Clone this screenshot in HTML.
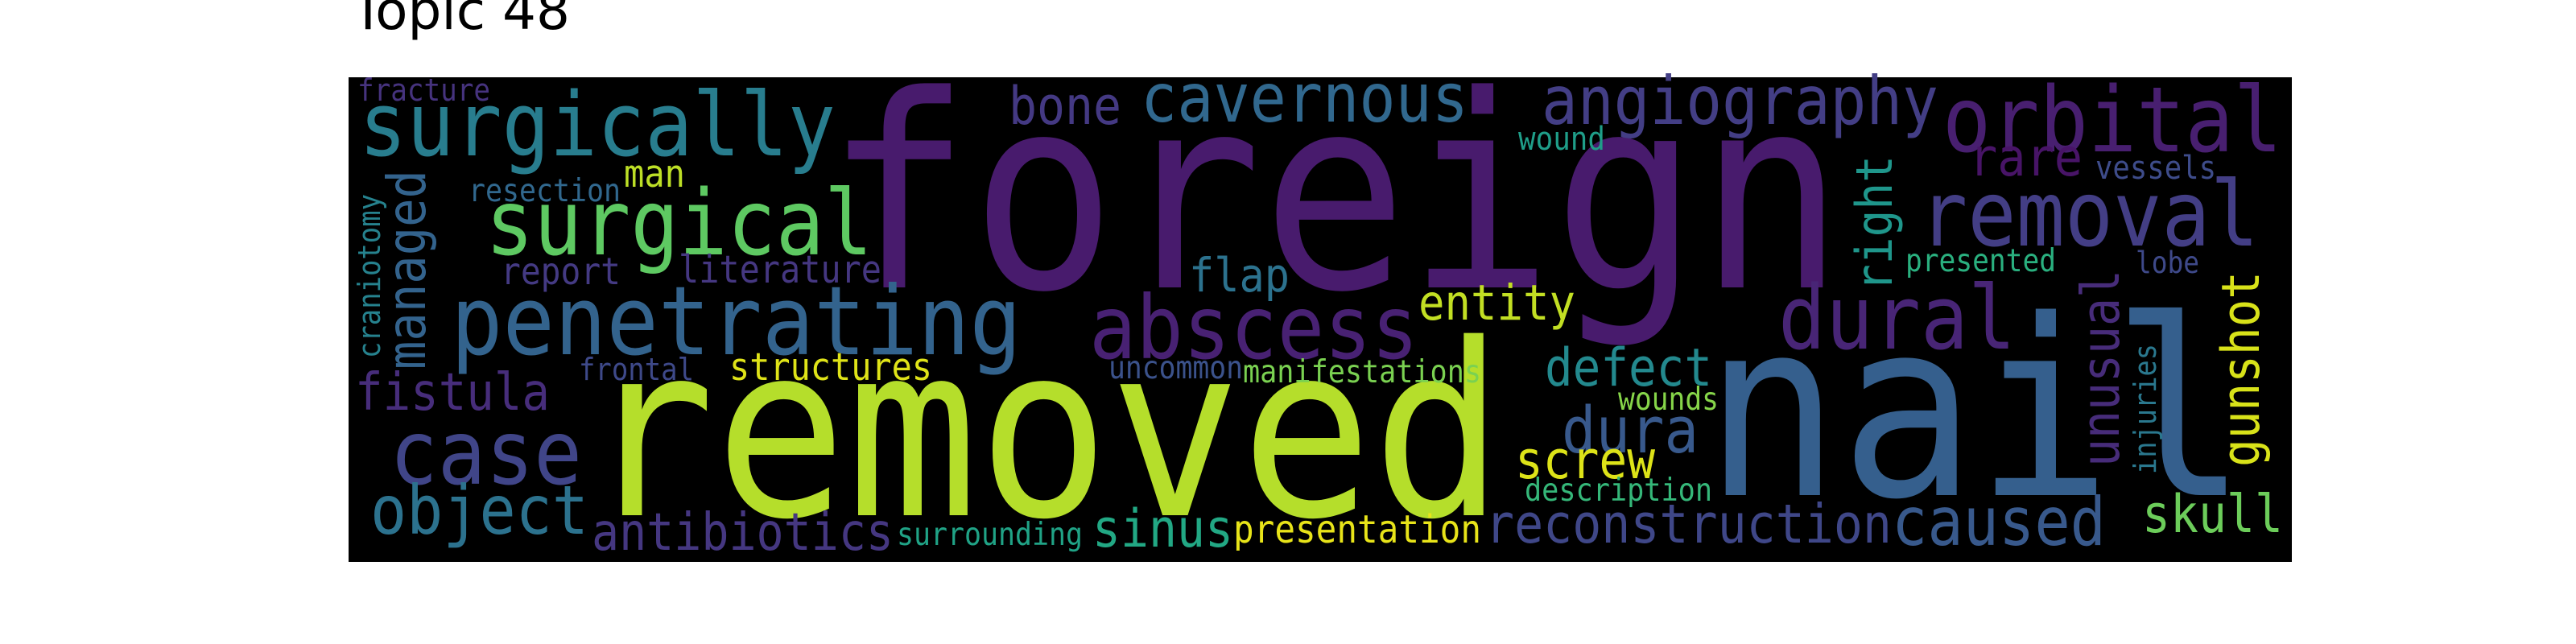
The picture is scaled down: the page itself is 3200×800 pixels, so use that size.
<!DOCTYPE html>
<html><head><meta charset="utf-8"><style>
html,body{margin:0;padding:0;background:#fff;width:3200px;height:800px;overflow:hidden}
svg{display:block}
</style></head><body>
<svg id="chart" width="3200" height="800" xmlns="http://www.w3.org/2000/svg">
<text x="437" y="36" font-family="DejaVu Sans, sans-serif" font-size="66" fill="#000">Topic 48</text>
<rect x="433" y="96" width="2414" height="602" fill="#000"/>
<g id="words"></g>
</svg>
<script>
const words=["foreign","removed","nail","surgically","surgical","penetrating","abscess","orbital","removal","dural","case","cavernous","angiography","object","caused","reconstruction","dura","antibiotics","fistula","defect","sinus","skull","screw","bone","rare","entity","flap","managed","unusual","gunshot","right","presentation","structures","literature","report","man","fracture","resection","craniotomy","frontal","uncommon","manifestations","surrounding","wound","vessels","presented","lobe","wounds","description","injuries"];
const sizes=[298,266,272,98,100,106,97,100,100,98,99,75,74,75,74,60,71,57,57,58,58,58,58,58,58,54,52,59,58,58,56,43,42,42,41,42,34,35,34,34,35,35,35,36,36,35,33,35,35,34];
const xs=[1025,725,2117,446,603,560,1353,2413,2384,2209,484,1417,1915,460,2350,1845,1940,735,441,1919,1357,2661,1882,1253,2446,1762,1477,528,2632,2806,2350,1532,906,843,622,775,444,582,472,719,1377,1544,1114,1886,2603,2367,2653,2010,1894,2678];
const ys=[357,640,615,193,316,440,445,188,305,433,601,151,154,663,677,674,562,683,509,479,679,661,594,154,218,397,362,459,580,580,362,674,472,351,353,232,125,250,445,472,470,475,677,186,222,337,339,509,622,589];
const lens=[1266,1143,675,592,481,709,409,422,422,295,239,407,493,271,266,505,170,375,242,208,175,175,174,140,141,195,125,248,245,243,169,308,252,252,149,76,165,189,204,143,167,296,231,108,150,187,79,125,233,162];
const rot=[0,0,0,0,0,0,0,0,0,0,0,0,0,0,0,0,0,0,0,0,0,0,0,0,0,0,0,1,1,1,1,0,0,0,0,0,0,0,1,0,0,0,0,0,0,0,0,0,0,1];
const colors=["#481b6d","#b5de2b","#355f8d","#287d8e","#5ec962","#33638d","#482173","#481f70","#433e85","#482576","#404588","#31688e","#433e85","#2c728e","#38598c","#3f4788","#38598c","#453781","#472d7b","#23898e","#22a884","#6ccd5a","#dde318","#443983","#481467","#c2df23","#2c728e","#33638d","#472c7a","#d8e219","#1f968b","#e8e419","#dfe318","#453781","#443a83","#bddf26","#46337e","#31688e","#26828e","#3e4989","#3b528b","#7ad151","#20a386","#1f9e89","#3e4c8a","#2ab07f","#3e4989","#86d549","#35b779","#2a788e"];
const g=document.getElementById('words');
const NS='http://www.w3.org/2000/svg';
for(let i=0;i<words.length;i++){
  const t=document.createElementNS(NS,'text');
  
  
  t.setAttribute('font-family','DejaVu Sans Mono, Liberation Mono, monospace');
  t.setAttribute('font-size',sizes[i]);
  t.setAttribute('fill',colors[i]);
  t.setAttribute('textLength',lens[i]);
  t.setAttribute('lengthAdjust','spacingAndGlyphs');
  t.setAttribute('x',0);t.setAttribute('y',0);
  if(rot[i]){t.setAttribute('transform','translate('+xs[i]+','+ys[i]+') rotate(-90) scale(1,1.12)');}
  else{t.setAttribute('transform','translate('+xs[i]+','+ys[i]+') scale(1,1.12)');}
  t.textContent=words[i];
  g.appendChild(t);
}
</script>
</body></html>
